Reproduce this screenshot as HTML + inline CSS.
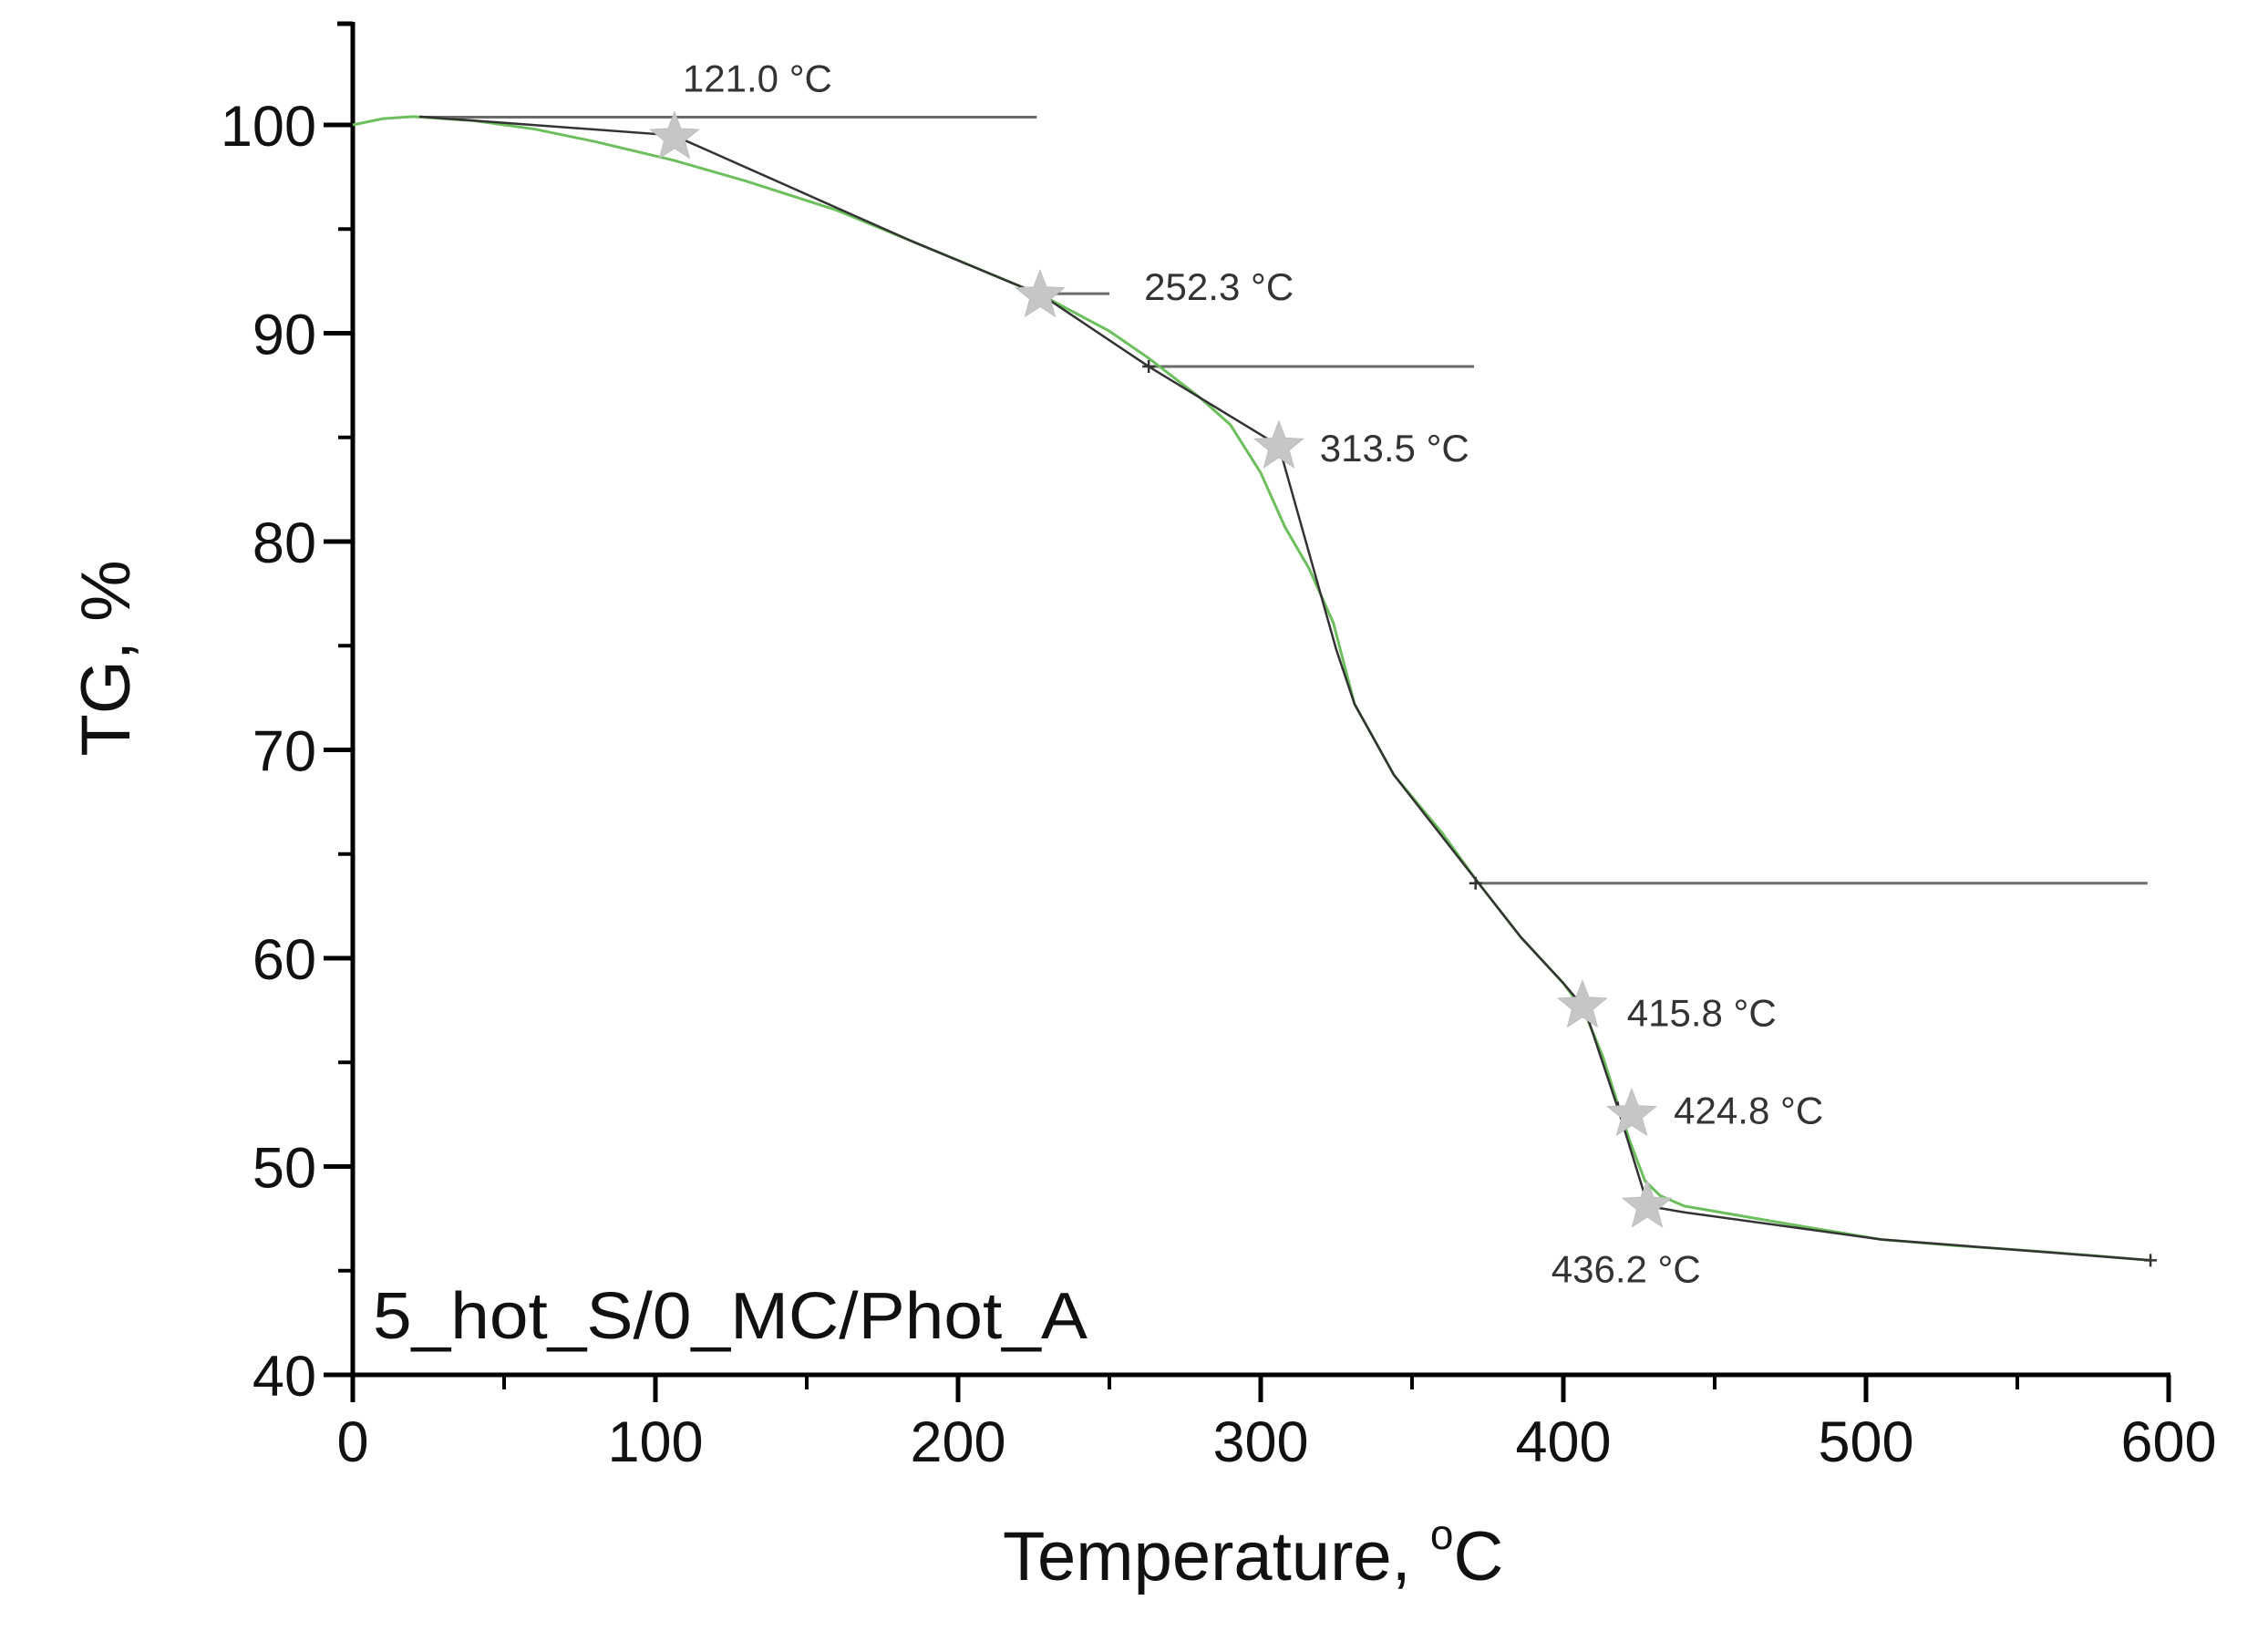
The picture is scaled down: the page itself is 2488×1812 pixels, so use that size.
<!DOCTYPE html>
<html><head><meta charset="utf-8"><style>
html,body{margin:0;padding:0;background:#fff;}
svg{display:block;}
</style></head><body>
<svg id="chart" width="2488" height="1812" viewBox="0 0 2488 1812" xmlns="http://www.w3.org/2000/svg" font-family="Liberation Sans, sans-serif">
<g id="axes"></g>
<g id="marks"></g>
<text transform="translate(142,722) rotate(-90)" text-anchor="middle" font-size="76" fill="#111">TG, %</text>
<text x="1100" y="1733" font-size="76" fill="#111">Temperature, <tspan font-size="46" dy="-34">o</tspan><tspan dy="34">C</tspan></text>
<text x="409" y="1468" font-size="72" fill="#111" textLength="784" lengthAdjust="spacingAndGlyphs">5_hot_S/0_MC/Phot_A</text>
</svg>
<script>
const xTicks=[0,100,200,300,400,500,600];
const yTicks=[40,50,60,70,80,90,100];
const tgT=[0,10,20,40,60,80,106,130,160,180,200,228,250,263,280,290,300,308,316,324,331,336,344,360,372,386,400,407,413,418,422,427,432,440,460,480,505,530,560,594];
const tgV=[100,100.3,100.4,100.2,99.8,99.2,98.3,97.3,95.9,94.7,93.5,91.8,90.1,88.8,86.9,85.6,83.3,80.7,78.7,76.1,72.2,70.9,68.8,66,63.6,61,58.8,57.4,55.3,53,51.2,49.3,48.6,48.1,47.6,47.1,46.5,46.2,45.9,45.5];
const tanT=[22,106,185,228,263,306,325,331,344,372,386,400,407,418,428,440,505,594];
const tanV=[100.4,99.5,94.4,91.8,88.4,84.6,74.8,72.2,68.8,63.6,61,58.8,57.6,52.8,48.1,47.8,46.5,45.5];
const hlT1=[22,227,263,371];
const hlT2=[226,250,370.5,593];
const hlV=[100.37,91.9,88.4,63.6];
const crossT=[263,371,418,594];
const crossV=[88.4,63.6,52.8,45.5];
const starT=[106.3,227.1,306,406.3,422.6,427.7];
const starV=[99.4,91.8,84.55,57.7,52.5,48.1];
const starLabels=["121.0 °C","252.3 °C","313.5 °C","415.8 °C","424.8 °C","436.2 °C"];
const labT=[109,261.5,319.5,421,436.5,396];
const labV=[101.6,91.6,83.85,56.75,52.05,44.45];

const X0=387,X1=2379,Y0=1508,Y1=137;
function sx(t){return X0+(t-0)/(600-0)*(X1-X0);}
function sy(v){return Y0-(v-40)/(100-40)*(Y0-Y1);}
const NS="http://www.w3.org/2000/svg";
function mk(tag,parent,attrs){const e=document.createElementNS(NS,tag);for(const k in attrs)e.setAttribute(k,attrs[k]);parent.appendChild(e);return e;}
const axes=document.getElementById('axes'),marks=document.getElementById('marks');

let e=mk('line',axes,{x1:X0,y1:24,x2:X0,y2:Y0+2,stroke:'#000','stroke-width':5});


e=mk('line',axes,{x1:X0-17,y1:26,x2:X0,y2:26,stroke:'#000','stroke-width':5});


e=mk('line',axes,{x1:X0-2,y1:Y0,x2:X1+2,y2:Y0,stroke:'#000','stroke-width':5});



yTicks.forEach((v,i)=>{
  let t=mk('line',axes,{x1:X0-32,y1:sy(v),x2:X0,y2:sy(v),stroke:'#000','stroke-width':5});
  
  
  if(i<yTicks.length-1){
    let m=mk('line',axes,{x1:X0-16,y1:sy(v+5),x2:X0,y2:sy(v+5),stroke:'#000','stroke-width':4});
    
    
  }
  let l=mk('text',axes,{x:347,y:sy(v)+23,'text-anchor':'end','font-size':63,fill:'#111'});
  l.textContent=v;
  
  
});
xTicks.forEach((v,i)=>{
  let t=mk('line',axes,{x1:sx(v),y1:Y0,x2:sx(v),y2:Y0+30,stroke:'#000','stroke-width':5});
  
  
  if(i<xTicks.length-1){
    let m=mk('line',axes,{x1:sx(v+50),y1:Y0,x2:sx(v+50),y2:Y0+16,stroke:'#000','stroke-width':4});
    
    
  }
  let l=mk('text',axes,{x:sx(v),y:1603,'text-anchor':'middle','font-size':63,fill:'#111'});
  l.textContent=v;
  
  
});

hlV.forEach((v,i)=>{
  let h=mk('line',marks,{x1:sx(hlT1[i]),y1:sy(v),x2:sx(hlT2[i]),y2:sy(v),stroke:'#6a6a6a','stroke-width':3});
  
  
});

let g=mk('polyline',marks,{points:tgT.map((t,i)=>sx(t)+','+sy(tgV[i])).join(' '),fill:'none',stroke:'#6cbf5c','stroke-width':3});


let d=mk('polyline',marks,{points:tanT.map((t,i)=>sx(t)+','+sy(tanV[i])).join(' '),fill:'none',stroke:'#333','stroke-width':2.5});



crossT.forEach((t,i)=>{
  let c=mk('path',marks,{d:`M${sx(t)-7},${sy(crossV[i])}h14M${sx(t)},${sy(crossV[i])-7}v14`,stroke:'#333','stroke-width':2.5});
  
  
});

function starPath(cx,cy,R,r){let p='';for(let k=0;k<10;k++){const a=-Math.PI/2+k*Math.PI/5;const rr=k%2?r:R;p+=(k?'L':'M')+(cx+rr*Math.cos(a)).toFixed(1)+','+(cy+rr*Math.sin(a)).toFixed(1);}return p+'Z';}
starT.forEach((t,i)=>{
  let s=mk('path',marks,{d:starPath(sx(t),sy(starV[i]),28,12),fill:'#c6c6c6',stroke:'#bdbdbd','stroke-width':1});
  
  
  let l=mk('text',marks,{x:sx(labT[i]),y:sy(labV[i]),'font-size':42,fill:'#333',textLength:164,lengthAdjust:'spacingAndGlyphs'});
  l.textContent=starLabels[i];
  
  
});
</script>
</body></html>
